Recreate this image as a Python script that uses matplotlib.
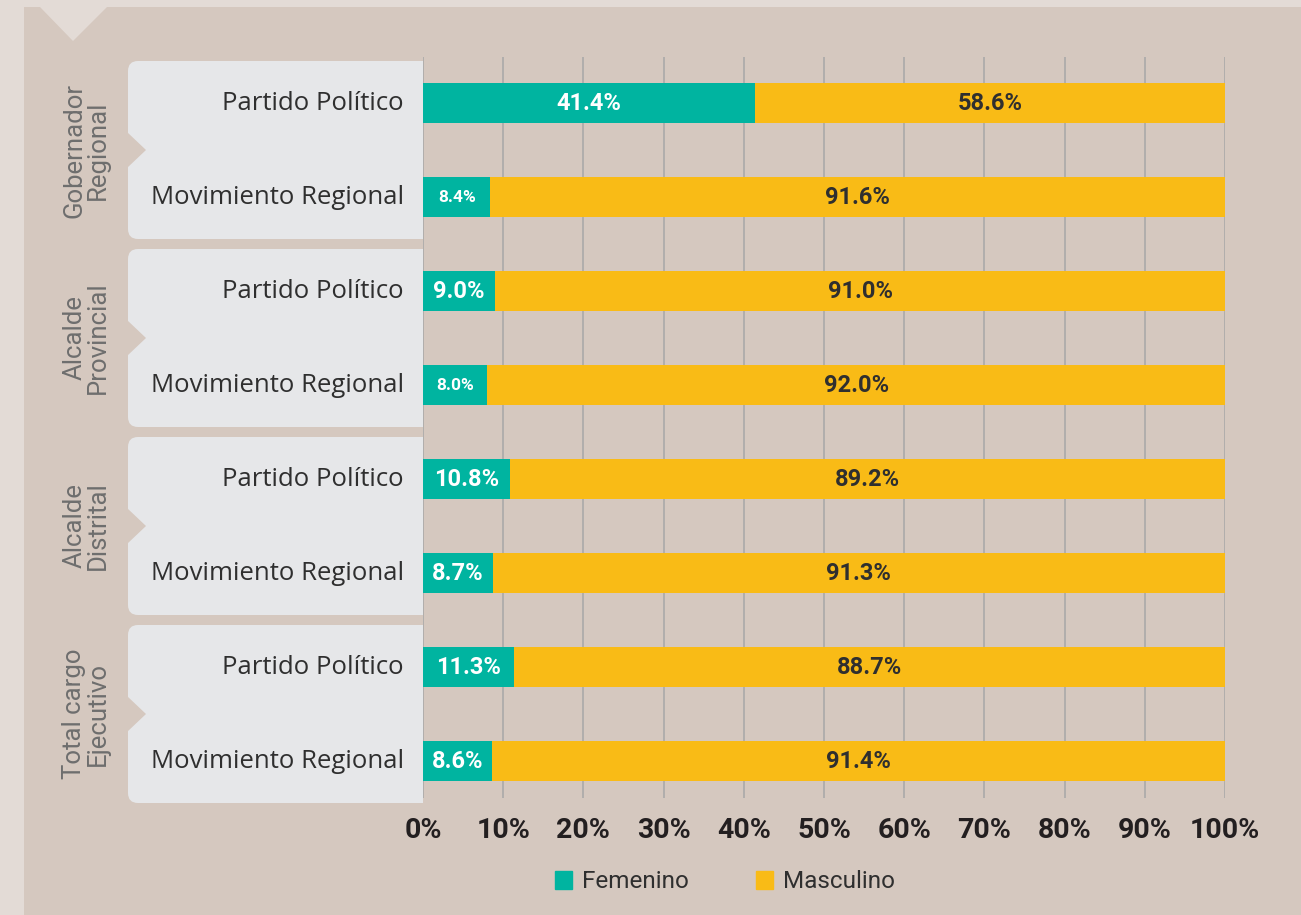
import numpy as np
import matplotlib
matplotlib.use("Agg")
import matplotlib.pyplot as plt
from matplotlib.patches import Rectangle, FancyBboxPatch, Polygon, Patch

plt.rcParams["font.family"] = ["Roboto", "DejaVu Sans"]

# data
groups = ["Gobernador\nRegional", "Alcalde\nProvincial", "Alcalde\nDistrital", "Total cargo\nEjecutivo"]
rows = ["Partido Político", "Movimiento Regional"]
femenino = [41.4, 8.4, 9.0, 8.0, 10.8, 8.7, 11.3, 8.6]
masculino = [58.6, 91.6, 91.0, 92.0, 89.2, 91.3, 88.7, 91.4]
ticks = [0, 10, 20, 30, 40, 50, 60, 70, 80, 90, 100]

TEAL = "#00b4a0"
YELLOW = "#f9bb16"
TAN = "#d5c8bf"
OUTER = "#e3dbd6"
BOX = "#e6e7e9"
DARK = "#2f2f2f"
GREY = "#6e6e6e"

W, H = 1301, 915
fig = plt.figure(figsize=(W / 100, H / 100), dpi=100)
fig.patch.set_facecolor(OUTER)

# background overlay in pixel coordinates
bg = fig.add_axes([0, 0, 1, 1], zorder=0)
bg.set_xlim(0, W)
bg.set_ylim(H, 0)
bg.axis("off")
bg.add_patch(Rectangle((24, 7), W - 24, H - 7, color=TAN, lw=0))
bg.add_patch(Polygon([(40, 7), (107, 7), (73, 41)], closed=True, color=OUTER, lw=0))

# main chart area
x0_px, x1_px = 423, 1225
top_px, bot_px = 57, 798
first_px, step_px = 103, 94
ax = fig.add_axes([x0_px / W, 1 - bot_px / H, (x1_px - x0_px) / W, (bot_px - top_px) / H], zorder=2)
ax.set_facecolor("none")

n = len(femenino)
ypos = np.arange(n)
bar_h = 40 / step_px
ax.barh(ypos, femenino, height=bar_h, color=TEAL, zorder=3)
ax.barh(ypos, masculino, left=femenino, height=bar_h, color=YELLOW, zorder=3)

ax.set_xlim(0, 100)
ax.set_ylim(n - 1 + (bot_px - (first_px + step_px * (n - 1))) / step_px, -(first_px - top_px) / step_px)
ax.set_xticks(ticks)
ax.set_xticklabels([f"{t}%" for t in ticks], fontsize=20.5, fontweight="bold", color="#231f20")
ax.set_yticks([])
ax.tick_params(axis="x", length=0, pad=14)
ax.grid(axis="x", color="#a7a7a7", lw=1.1, zorder=1)
for s in ax.spines.values():
    s.set_visible(False)

small = {1, 3}
for i in range(n):
    f, m = femenino[i], masculino[i]
    fs = 12.5 if i in small else 17
    ax.text(f / 2, i, f"{f:.1f}%", ha="center", va="center", color="white",
            fontsize=fs, fontweight="bold", zorder=4)
    ax.text(f + m / 2, i, f"{m:.1f}%", ha="center", va="center", color=DARK,
            fontsize=17, fontweight="bold", zorder=4)

# label boxes and row labels
def row_px(i):
    return first_px + step_px * i

for g, name in enumerate(groups):
    c = (row_px(2 * g) + row_px(2 * g + 1)) / 2
    half = 89
    bg.add_patch(FancyBboxPatch((128 + 10, c - half + 10), x0_px - 128 - 20, 2 * half - 20,
                                boxstyle="round,pad=10", color=BOX, lw=0))
    bg.add_patch(Rectangle((x0_px - 30, c - half), 30, 2 * half, color=BOX, lw=0))
    bg.add_patch(Polygon([(127, c - 18), (146, c), (127, c + 18)], closed=True, color=TAN, lw=0))
    bg.text(86, c, name, rotation=90, ha="center", va="center", color=GREY,
            fontsize=18.5, linespacing=0.95)
    for k, r in enumerate(rows):
        bg.text(404, row_px(2 * g + k), r, ha="right", va="center", color=DARK,
                fontsize=18.5, family=["Open Sans", "DejaVu Sans"])

# legend
handles = [Patch(color=TEAL, label="Femenino"), Patch(color=YELLOW, label="Masculino")]
fig.legend(handles=handles, loc="center", bbox_to_anchor=(725 / W, 1 - 882 / H), ncol=2,
           frameon=False, fontsize=17.5, labelcolor=DARK, handlelength=0.7, handleheight=0.7,
           handletextpad=0.4, columnspacing=2.8)

fig.savefig("out.png", dpi=100, facecolor=fig.get_facecolor())
